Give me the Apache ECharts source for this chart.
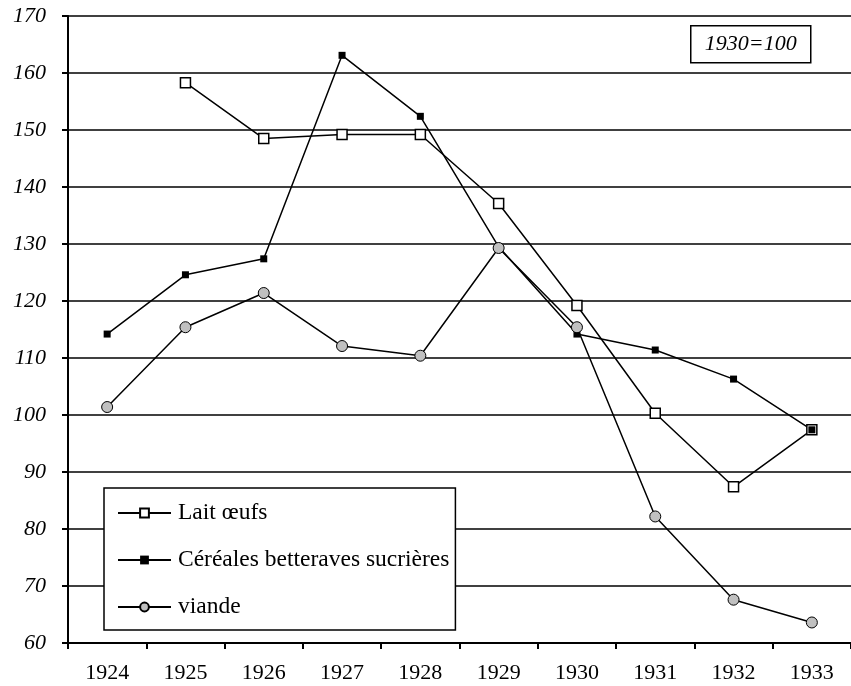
<!DOCTYPE html>
<html>
<head>
<meta charset="utf-8">
<script src="https://cdn.jsdelivr.net/npm/echarts@6/dist/echarts.min.js"></script>
<style>html,body{margin:0;padding:0;background:#fff}#c{width:851px;height:686px}</style>
</head>
<body>
<div id="c"></div>
<script>
var years = ['1924','1925','1926','1927','1928','1929','1930','1931','1932','1933'];
var lait = [null, 158.3, 148.5, 149.2, 149.2, 137.1, 119.2, 100.3, 87.4, 97.4];
var cereales = [114.2, 124.6, 127.4, 163.1, 152.4, 129.5, 114.2, 111.4, 106.3, 97.4];
var viande = [101.4, 115.4, 121.4, 112.1, 110.4, 129.3, 115.4, 82.2, 67.6, 63.6];
var seriesNames = ['Lait œufs', 'Céréales betteraves sucrières', 'viande'];
var noteText = '1930=100';

var FONT = '"Liberation Serif", "Times New Roman", serif';
var chart = echarts.init(document.getElementById('c'));
chart.setOption({
  animation: false,
  backgroundColor: '#fff',
  grid: {left: 68, top: 16, bottom: 43, right: -9, containLabel: false},
  xAxis: {
    type: 'category', data: years, boundaryGap: true,
    axisLine: {lineStyle: {color: '#000', width: 2}},
    axisTick: {show: true, length: 6, lineStyle: {color: '#000', width: 2}},
    axisLabel: {color: '#000', fontFamily: FONT, fontSize: 22, margin: 19},
    splitLine: {show: false}
  },
  yAxis: {
    type: 'value', min: 60, max: 170, interval: 10,
    axisLine: {show: true, lineStyle: {color: '#000', width: 2}},
    axisTick: {show: true, length: 6, lineStyle: {color: '#000', width: 2}},
    axisLabel: {color: '#000', fontFamily: FONT, fontSize: 22, fontStyle: 'italic', margin: 22,
      formatter: function (v) { return '{i|' + v + '}'; },
      rich: {i: {fontFamily: FONT, fontSize: 22, fontStyle: 'italic', color: '#000'}}},
    splitLine: {show: true, lineStyle: {color: '#000', width: 1.5}}
  },
  legend: {
    orient: 'vertical', left: 104, top: 488,
    padding: [13, 6, 11, 13], itemGap: 23,
    itemWidth: 53, itemHeight: 11,
    backgroundColor: '#fff', borderColor: '#000', borderWidth: 1.5,
    textStyle: {color: '#000', fontFamily: FONT, fontSize: 23.5, padding: [0, 0, 0, 2]},
    data: seriesNames
  },
  series: [
    {name: seriesNames[0], type: 'line', data: lait, symbol: 'rect', symbolSize: 10,
     lineStyle: {color: '#000', width: 1.5},
     itemStyle: {color: '#fff', borderColor: '#000', borderWidth: 1.5}},
    {name: seriesNames[1], type: 'line', data: cereales, symbol: 'rect', symbolSize: 7,
     lineStyle: {color: '#000', width: 1.5},
     itemStyle: {color: '#000', borderColor: '#000', borderWidth: 0}},
    {name: seriesNames[2], type: 'line', data: viande, symbol: 'circle', symbolSize: 11,
     lineStyle: {color: '#000', width: 1.5},
     itemStyle: {color: '#c0c0c0', borderColor: '#000', borderWidth: 1}}
  ],
  graphic: [{
    type: 'group', left: 690, top: 25,
    children: [
      {type: 'rect', shape: {x: 0, y: 0, width: 120, height: 37},
       style: {fill: '#fff', stroke: '#000', lineWidth: 1.5}},
      {type: 'text', x: 60, y: 18.5,
       style: {text: noteText, fill: '#000', font: 'italic 22px ' + FONT, align: 'center', verticalAlign: 'middle'}}
    ]
  }]
});
</script>
</body>
</html>
